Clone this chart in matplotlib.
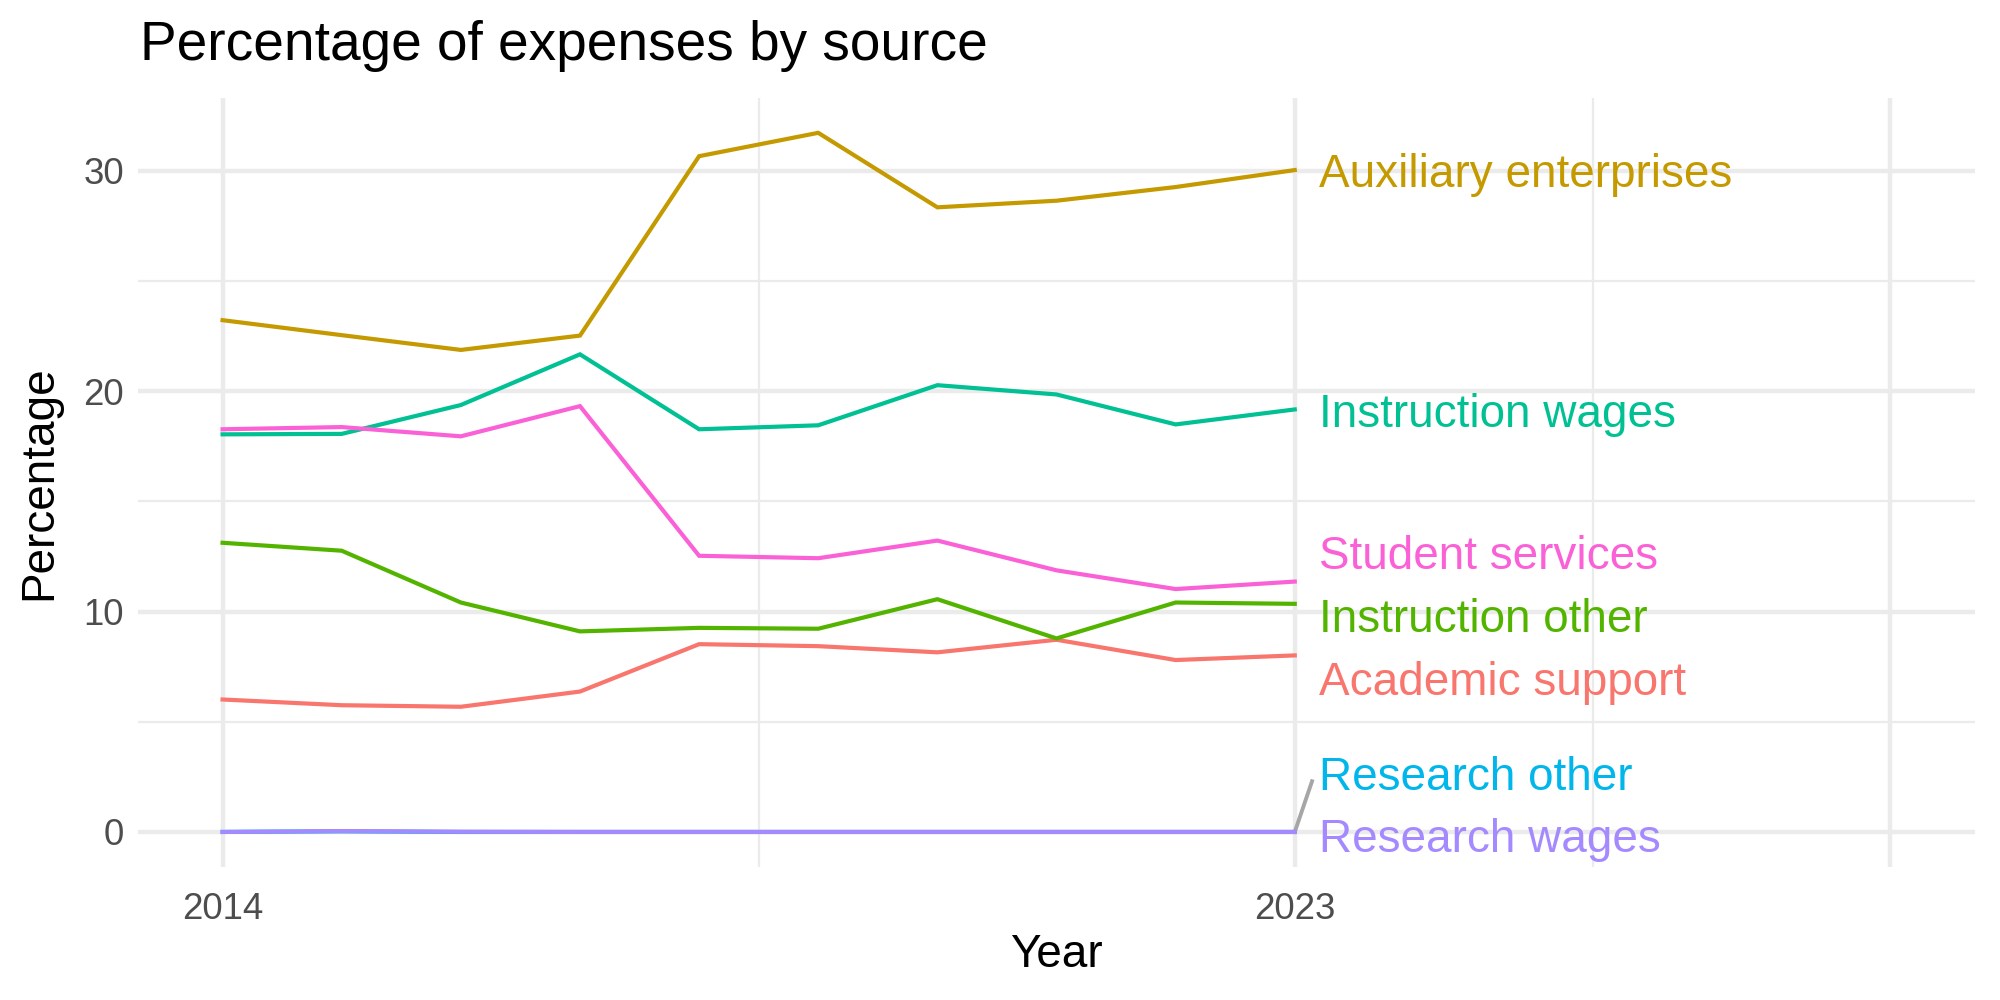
# Percentage of expenses by source, labelled lines (ggplot-like minimal theme).

import matplotlib
matplotlib.use("Agg")
import matplotlib.pyplot as plt
from matplotlib.ticker import FixedLocator

plt.rcParams['font.family'] = ['Liberation Sans', 'DejaVu Sans']

years = [2014, 2015, 2016, 2017, 2018, 2019, 2020, 2021, 2022, 2023]

academic_support = [6.01, 5.75, 5.68, 6.37, 8.52, 8.43, 8.15, 8.72, 7.80, 8.01]
auxiliary_enterprises = [23.22, 22.54, 21.87, 22.52, 30.66, 31.72, 28.34, 28.64, 29.26, 30.03]
instruction_other = [13.12, 12.76, 10.41, 9.10, 9.26, 9.22, 10.56, 8.78, 10.41, 10.35]
instruction_wages = [18.04, 18.06, 19.37, 21.67, 18.27, 18.45, 20.27, 19.85, 18.49, 19.17]
research_other = [0.00, 0.03, 0.00, 0.00, 0.00, 0.00, 0.00, 0.00, 0.00, 0.00]
research_wages = [0.00, 0.04, 0.01, 0.00, 0.00, 0.00, 0.00, 0.00, 0.00, 0.00]
student_services = [18.27, 18.37, 17.95, 19.32, 12.53, 12.42, 13.22, 11.87, 11.02, 11.36]

sources = ["Academic support", "Auxiliary enterprises", "Instruction other",
           "Instruction wages", "Research other", "Research wages", "Student services"]
series = [academic_support, auxiliary_enterprises, instruction_other,
          instruction_wages, research_other, research_wages, student_services]
colors = ["#F8766D", "#C49A00", "#53B400", "#00C094", "#00B6EB", "#A58AFF", "#FB61D7"]

# where the repelled labels ended up (y in data units)
label_y = [6.74, 29.8, 9.63, 18.93, 2.46, -0.37, 12.46]
label_x = 2023.2

x_major = [2014, 2023, 2028]
x_minor = [2018.5, 2025.5]
x_ticklabels = ["2014", "2023", ""]
y_major = [0, 10, 20, 30]
y_minor = [5, 15, 25]

fig = plt.figure(figsize=(10, 5), dpi=200)
ax = fig.add_axes([0.069, 0.133, 0.9185, 0.769])

for name, vals, col in zip(sources, series, colors):
    ax.plot(years, vals, color=col, lw=1.5, solid_joinstyle='miter', zorder=3)

# labels at the right end
for name, vals, col, ly in zip(sources, series, colors, label_y):
    ax.text(label_x, ly, name, color=col, fontsize=16.5, ha='left', va='center', zorder=4)
    if name == "Research other":
        ax.plot([years[-1], 2023.145], [vals[-1], 2.3], color="#A6A6A6", lw=1.4, zorder=2)

ax.set_xlim(2013.29, 2028.71)
ax.set_ylim(-1.59, 33.3)

ax.xaxis.set_major_locator(FixedLocator(x_major))
ax.xaxis.set_minor_locator(FixedLocator(x_minor))
ax.set_xticklabels(x_ticklabels)
ax.yaxis.set_major_locator(FixedLocator(y_major))
ax.yaxis.set_minor_locator(FixedLocator(y_minor))

ax.grid(which='major', color='#EBEBEB', lw=1.6)
ax.grid(which='minor', color='#EBEBEB', lw=0.8)
ax.set_axisbelow(True)
for s in ax.spines.values():
    s.set_visible(False)
ax.tick_params(which='both', length=0)
ax.tick_params(axis='both', labelsize=13.2, labelcolor='#4D4D4D')
ax.tick_params(axis='x', pad=9)
ax.tick_params(axis='y', pad=5)

ax.set_xlabel("Year", fontsize=16.5, labelpad=2)
ax.set_ylabel("Percentage", fontsize=16.5, labelpad=8)
fig.text(0.070, 0.954, "Percentage of expenses by source", fontsize=19.8,
         ha='left', va='center')

fig.savefig("out.png", dpi=200)
